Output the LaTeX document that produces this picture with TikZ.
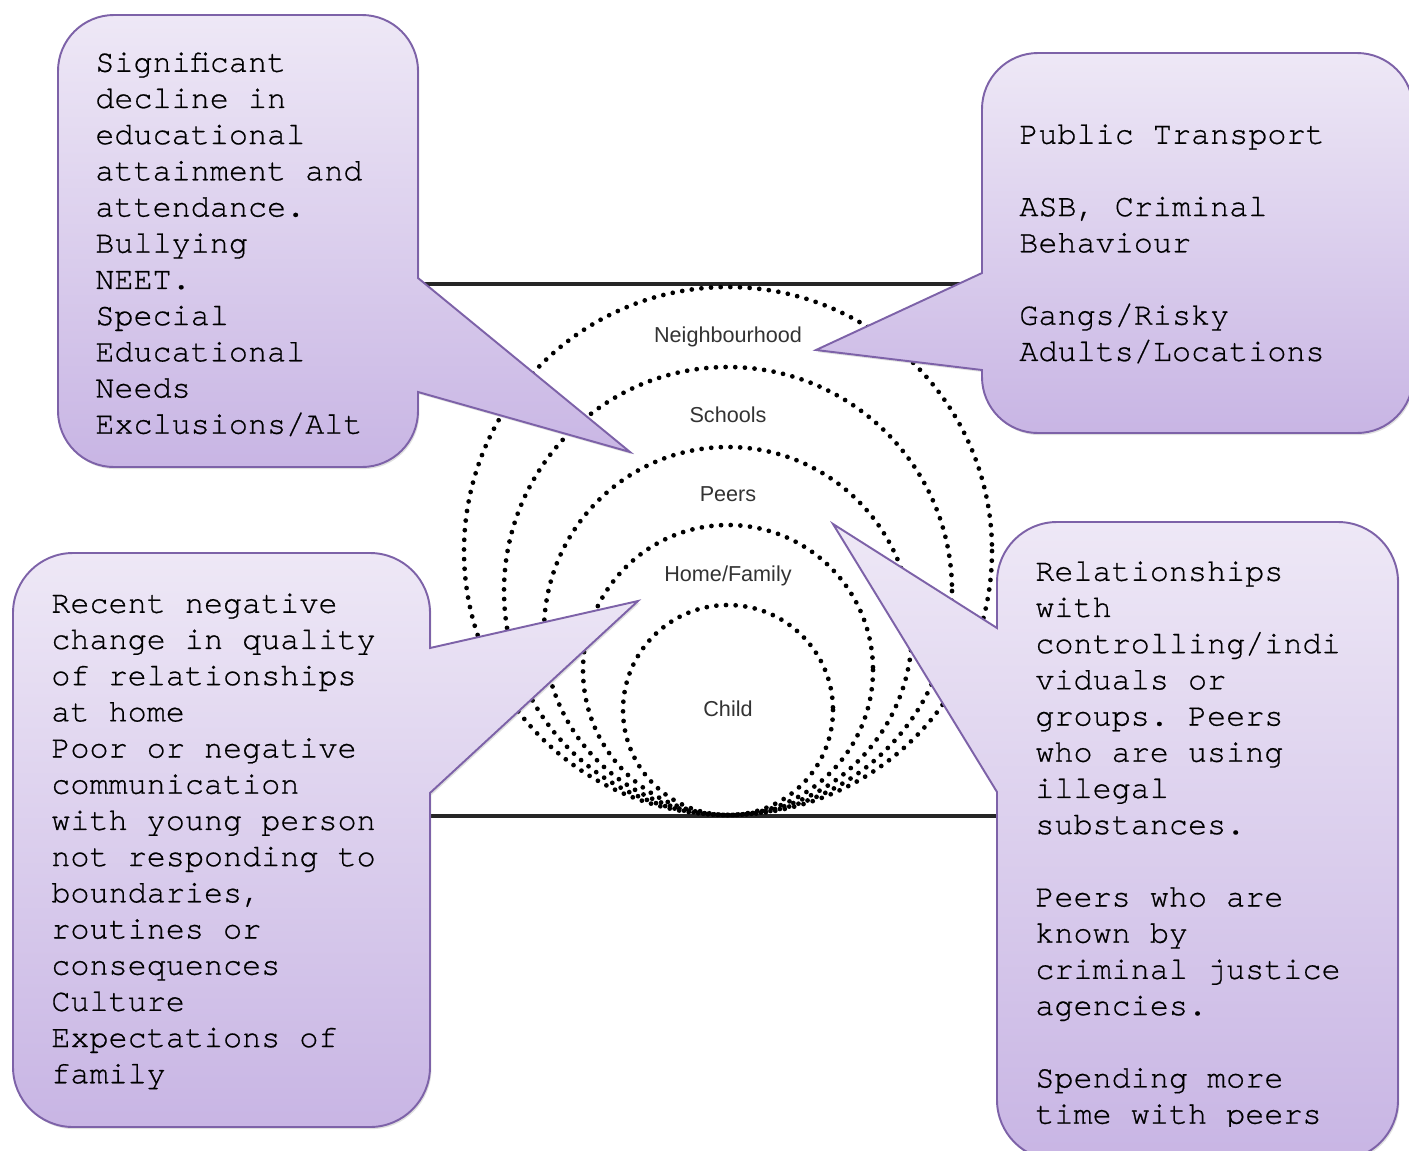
\documentclass[tikz,border=0pt]{standalone}
\usepackage{fontspec}
\setmonofont{TeX Gyre Cursor}[FakeBold=0.6]
\setsansfont{Liberation Sans}
\usetikzlibrary{positioning,shadows}
\definecolor{bubbleTop}{HTML}{EEE8F6}
\definecolor{bubbleBottom}{HTML}{C8B5E4}
\definecolor{bubbleLine}{HTML}{7D62A8}
\definecolor{ringText}{HTML}{333333}
\tikzset{
  bubble/.style={draw=bubbleLine, line width=1.1pt, top color=bubbleTop, bottom color=bubbleBottom,
    drop shadow={opacity=0.25, shadow xshift=0.8pt, shadow yshift=-1.2pt}},
  bubbletext/.style={font=\ttfamily\fontsize{18.1}{20.6}\selectfont, align=left, anchor=north west, inner sep=0pt},
  ring/.style={line width=2.7pt, line cap=round, dash pattern=on 0pt off 5.5pt, black},
  ringlabel/.style={font=\sffamily\fontsize{12.3}{14}\selectfont, text=ringText, inner sep=0pt},
  frameline/.style={line width=2pt, black!85}
}

\begin{document}
\begin{tikzpicture}[x=0.02cm, y=-0.02cm]
				\useasboundingbox (0,0) rectangle (1409,1150);
				\fill[white] (0,0) rectangle (1409,1150);
				% the rings picture
				\draw[frameline] (420,284) -- (1000,284);
				\draw[frameline] (420,816) -- (1000,816);
				\draw[ring] (728,551) circle [radius=264];
				\draw[ring] (728,591) circle [radius=224];
				\draw[ring] (728,631) circle [radius=184];
				\draw[ring] (728,670) circle [radius=145];
				\draw[ring] (728,710) circle [radius=105];
				\node[ringlabel] (hood) at (728,337) {Neighbourhood};
				\node[ringlabel] (schools) at (728,415) {Schools};
				\node[ringlabel] (peers) at (728,494) {Peers};
				\node[ringlabel] (home) at (728,576) {Home/Family};
				\node[ringlabel] (child) at (728,709) {Child};
				% tips of the callouts
				\coordinate (schoolTip) at (630,452);
				\coordinate (hoodTip) at (816,350);
				\coordinate (homeTip) at (638,601);
				\coordinate (peerTip) at (833,524);
				% top left callout
				\draw[bubble] (58,71) arc[start angle=180, end angle=270, radius=56] -- (362,15)
				  arc[start angle=270, end angle=360, radius=56] -- (418,278) -- (schoolTip) -- (418,392) -- (418,411)
				  arc[start angle=0, end angle=90, radius=56] -- (114,467)
				  arc[start angle=90, end angle=180, radius=56] -- cycle;
				\node[bubbletext] (schooltext) at (95,52) {Significant\\decline in\\educational\\attainment and\\attendance.\\Bullying\\NEET.\\Special\\Educational\\Needs\\Exclusions/Alt};
				% top right callout
				\draw[bubble] (982,109) arc[start angle=180, end angle=270, radius=56] -- (1357,53)
				  arc[start angle=270, end angle=360, radius=56] -- (1413,377)
				  arc[start angle=0, end angle=90, radius=56] -- (1038,433)
				  arc[start angle=90, end angle=180, radius=56] -- (982,370) -- (hoodTip) -- (982,273) -- cycle;
				\node[bubbletext] (hoodtext) at (1019,124) {Public Transport\\\mbox{}\\ASB, Criminal\\Behaviour\\\mbox{}\\Gangs/Risky\\Adults/Locations};
				% bottom left callout
				\draw[bubble] (13,613) arc[start angle=180, end angle=270, radius=60] -- (370,553)
				  arc[start angle=270, end angle=360, radius=60] -- (430,648) -- (homeTip) -- (430,793) -- (430,1067)
				  arc[start angle=0, end angle=90, radius=60] -- (73,1127)
				  arc[start angle=90, end angle=180, radius=60] -- cycle;
				\node[bubbletext] (hometext) at (51,593) {Recent negative\\change in quality\\of relationships\\at home\\Poor or negative\\communication\\with young person\\not responding to\\boundaries,\\routines or\\consequences\\Culture\\Expectations of\\family};
				% bottom right callout
				\draw[bubble] (997,582) arc[start angle=180, end angle=270, radius=60] -- (1338,522)
				  arc[start angle=270, end angle=360, radius=60] -- (1398,1100)
				  arc[start angle=0, end angle=90, radius=60] -- (1057,1160)
				  arc[start angle=90, end angle=180, radius=60] -- (997,792) -- (peerTip) -- (997,628) -- cycle;
				\begin{scope}
				\clip (990,520) rectangle (1400,1126);
				\node[bubbletext] (peertext) at (1035,561) {Relationships\\with\\controlling/indi\\viduals or\\groups. Peers\\who are using\\illegal\\substances.\\\mbox{}\\Peers who are\\known by\\criminal justice\\agencies.\\\mbox{}\\Spending more\\time with peers};
				\end{scope}
\end{tikzpicture}
\end{document}
